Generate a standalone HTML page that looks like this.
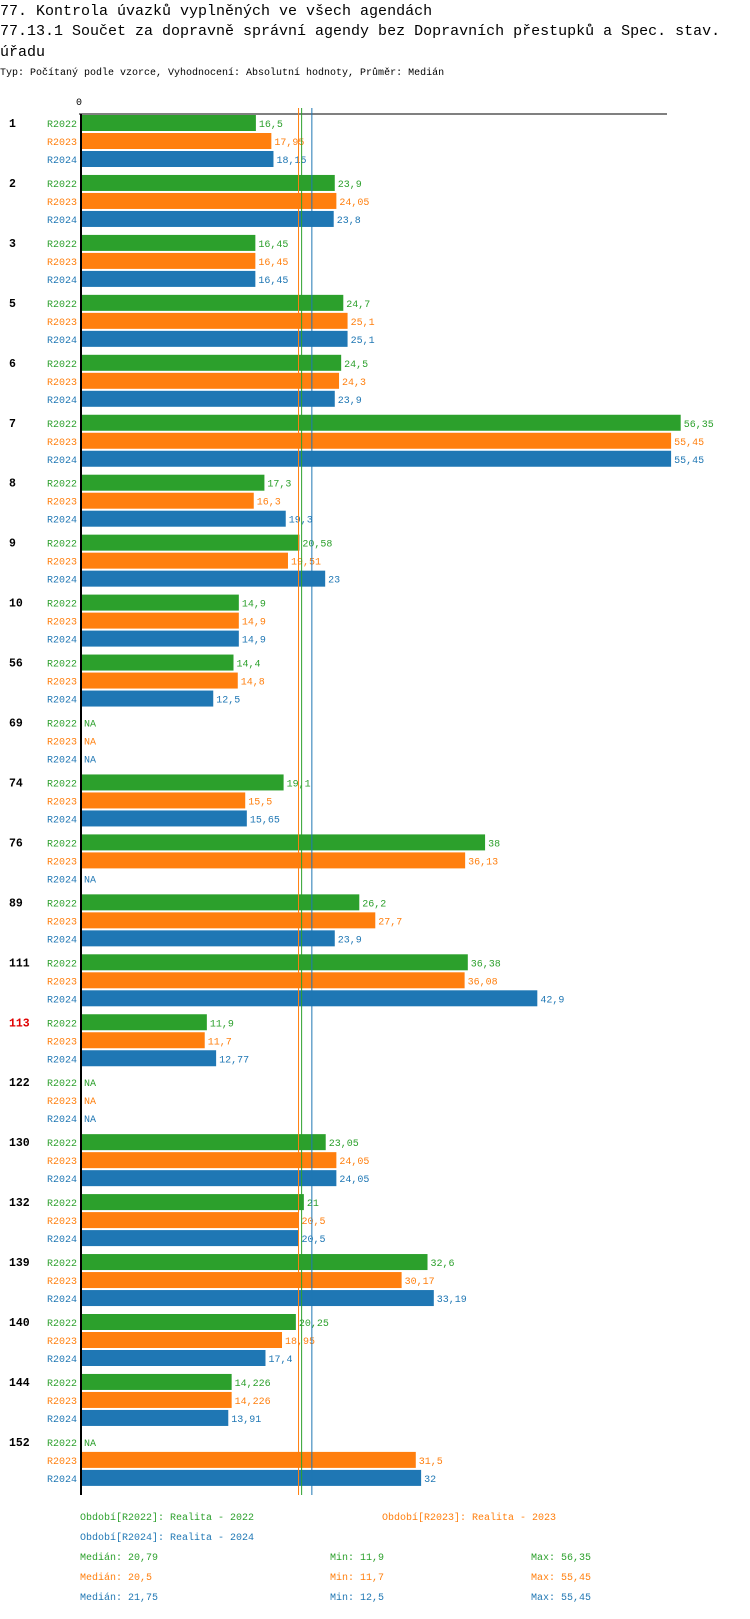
<!DOCTYPE html>
<html><head><meta charset="utf-8">
<style>
html,body{margin:0;padding:0;background:#fff;}
body{width:750px;height:1614px;overflow:hidden;font-family:"Liberation Mono",monospace;}
svg text{font-family:"Liberation Mono",monospace;}
</style></head>
<body>
<svg id="chart" width="750" height="1614" xmlns="http://www.w3.org/2000/svg">
<text x="0" y="15" font-size="15" fill="#000">77. Kontrola úvazků vyplněných ve všech agendách</text>
<text x="0" y="35" font-size="15" fill="#000">77.13.1 Součet za dopravně správní agendy bez Dopravních přestupků a Spec. stav.</text>
<text x="0" y="56" font-size="15" fill="#000">úřadu</text>
<text x="0" y="75" font-size="10" fill="#000">Typ: Počítaný podle vzorce, Vyhodnocení: Absolutní hodnoty, Průměr: Medián</text>
<g id="plot"></g>
</svg>
<script>
const categories = ["1","2","3","5","6","7","8","9","10","56","69","74","76","89","111","113","122","130","132","139","140","144","152"];
const seriesNames = ["R2022","R2023","R2024"];
const r2022 = [16.5,23.9,16.45,24.7,24.5,56.35,17.3,20.58,14.9,14.4,null,19.1,38,26.2,36.38,11.9,null,23.05,21,32.6,20.25,14.226,null];
const r2023 = [17.95,24.05,16.45,25.1,24.3,55.45,16.3,19.51,14.9,14.8,null,15.5,36.13,27.7,36.08,11.7,null,24.05,20.5,30.17,18.95,14.226,31.5];
const r2024 = [18.15,23.8,16.45,25.1,23.9,55.45,19.3,23,14.9,12.5,null,15.65,null,23.9,42.9,12.77,null,24.05,20.5,33.19,17.4,13.91,32];
const medians = [20.79,20.5,21.75];
const mins = [11.9,11.7,12.5];
const maxs = [56.35,55.45,55.45];
const legendText = ["Období[R2022]: Realita - 2022","Období[R2023]: Realita - 2023","Období[R2024]: Realita - 2024"];
const highlightCat = "113";
{
const colors = ["#2ca02c","#ff7f0e","#1f77b4"];
const series = [r2022,r2023,r2024];
const NS = "http://www.w3.org/2000/svg";
const g = document.getElementById("plot");
const X0 = 80, SC = 10.66;
const xs = v => X0 + v*SC;
const gy = i => 115 + i*59.95;
const fmt = v => String(v).replace(".", ",");
function mk(tag, attrs, txt){
  const el = document.createElementNS(NS, tag);
  for (const k in attrs) el.setAttribute(k, attrs[k]);
  if (txt !== undefined) el.textContent = txt;
  g.appendChild(el);
  return el;
}
const yTop = 114, yBottom = 1495;
let e;
e = mk("line",{x1:79,y1:yTop,x2:667,y2:yTop,stroke:"#000","stroke-width":1});


e = mk("text",{x:76,y:105,"font-size":10,fill:"#000"},"0");


e = mk("rect",{x:80,y:yTop,width:2,height:yBottom-yTop,fill:"#000"});



categories.forEach((c,i)=>{
  const y0 = gy(i);
  e = mk("text",{x:9,y:y0+12,"font-size":11.5,"font-weight":"bold",fill: c===highlightCat?"#e00000":"#000"},c);
  
  
  series.forEach((s,k)=>{
    const ry = y0 + k*18;
    e = mk("text",{x:77,y:ry+12,"font-size":10,fill:colors[k],"text-anchor":"end"},seriesNames[k]);
    
    
    const v = s[i];
    if (v === null) {
      e = mk("text",{x:84,y:ry+12,"font-size":10,fill:colors[k]},"NA");
      
      
    } else {
      const xe = xs(v);
      e = mk("rect",{x:82,y:ry,width:Math.max(0,xe-82),height:16,fill:colors[k]});
      
      
      e = mk("text",{x:xe+3,y:ry+12,"font-size":10,fill:colors[k]},fmt(v));
      
      
    }
  });
});

[1,0,2].forEach(k=>{
  e = mk("line",{x1:xs(medians[k]),y1:108,x2:xs(medians[k]),y2:yBottom,stroke:colors[k],"stroke-width":1});
  
  
});

const legPos = [[80,1520],[382,1520],[80,1540]];
legendText.forEach((t,k)=>{
  e = mk("text",{x:legPos[k][0],y:legPos[k][1],"font-size":10,fill:colors[k]},t);
  
  
});
for (let k=0;k<3;k++){
  const y = 1560 + k*20;
  e = mk("text",{x:80,y:y,"font-size":10,fill:colors[k]},"Medián: "+fmt(medians[k]));
  
  
  e = mk("text",{x:330,y:y,"font-size":10,fill:colors[k]},"Min: "+fmt(mins[k]));
  
  
  e = mk("text",{x:531,y:y,"font-size":10,fill:colors[k]},"Max: "+fmt(maxs[k]));
  
  
}
}
</script>
</body></html>
